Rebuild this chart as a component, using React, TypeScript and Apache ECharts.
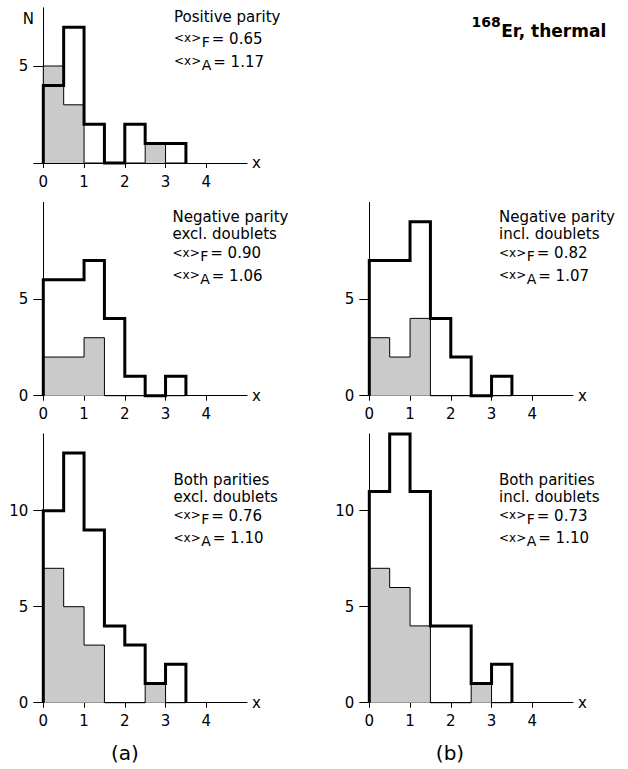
import React, { useEffect, useRef } from 'react';
import * as echarts from 'echarts';

// Bin edges (width 0.5) and axis ticks
const binEdges = [0, 0.5, 1, 1.5, 2, 2.5, 3, 3.5];
const xTicks = [0, 1, 2, 3, 4];

// Counts per bin: outlined histogram and shaded histogram for each panel
const posOutline = [4, 7, 2, 0, 2, 1, 1];
const posShaded = [5, 3, 0, 0, 0, 1, 0];
const negExclOutline = [6, 6, 7, 4, 1, 0, 1];
const negExclShaded = [2, 2, 3, 0, 0, 0, 0];
const negInclOutline = [7, 7, 9, 4, 2, 0, 1];
const negInclShaded = [3, 2, 4, 0, 0, 0, 0];
const bothExclOutline = [10, 13, 9, 4, 3, 1, 2];
const bothExclShaded = [7, 5, 3, 0, 0, 1, 0];
const bothInclOutline = [11, 14, 11, 4, 4, 1, 2];
const bothInclShaded = [7, 6, 4, 0, 0, 1, 0];

const outlines = [posOutline, negExclOutline, negInclOutline, bothExclOutline, bothInclOutline];
const shadeds = [posShaded, negExclShaded, negInclShaded, bothExclShaded, bothInclShaded];

const panelTitles = [
  ['Positive parity'],
  ['Negative parity', 'excl. doublets'],
  ['Negative parity', 'incl. doublets'],
  ['Both parities', 'excl. doublets'],
  ['Both parities', 'incl. doublets'],
];
const meanF = ['0.65', '0.90', '0.82', '0.76', '0.73'];
const meanA = ['1.17', '1.06', '1.07', '1.10', '1.10'];
const yMax = [8, 10, 10, 14, 14];
const yTickValues = [[0, 5], [0, 5], [0, 5], [0, 5, 10], [0, 5, 10]];
const yLabelValues = [[5], [0, 5], [0, 5], [0, 5, 10], [0, 5, 10]];

const FONT = '"DejaVu Sans", "Liberation Sans", sans-serif';
const UX = 40.75;

// Plot frames: left edge, y of the zero line, pixels per count
const frames = [
  { left: 43.3, zero: 163, unit: 19.4, textX: 174, base: [22.3, 44, 66.7] },
  { left: 43.3, zero: 395.7, unit: 19.33, textX: 172.5, base: [222.3, 239, 258.3, 281] },
  { left: 369.3, zero: 395.7, unit: 19.33, textX: 499, base: [222.3, 239, 258.3, 281] },
  { left: 43.3, zero: 702.7, unit: 19.2, textX: 173.5, base: [485, 502.3, 521, 543.3] },
  { left: 369.3, zero: 702.7, unit: 19.2, textX: 499, base: [485, 502.3, 521, 543.3] },
];

const measureCtx = document.createElement('canvas').getContext('2d')!;
function textWidth(s: string, size: number, weight = 'normal') {
  measureCtx.font = `${weight} ${size}px ${FONT}`;
  return measureCtx.measureText(s).width;
}

function txt(x: number, baseline: number, text: string, size: number, weight = 'normal', align = 'left') {
  return {
    type: 'text',
    x,
    y: baseline - 0.346 * size,
    silent: true,
    style: {
      text,
      fill: '#000',
      font: `${weight} ${size}px ${FONT}`,
      align,
      verticalAlign: 'middle',
    },
  };
}

function statLine(x: number, baseline: number, sub: string, value: string) {
  const w1 = textWidth('<x>', 12);
  const w2 = textWidth(sub, 14);
  return [
    txt(x, baseline - 1.5, '<x>', 12),
    txt(x + w1 + 0.5, baseline + 3, sub, 14),
    txt(x + w1 + 0.5 + w2 + 2, baseline, '= ' + value, 15),
  ];
}

function stepPoints(counts: number[]) {
  const pts: number[][] = [[binEdges[0], 0]];
  counts.forEach((c, i) => {
    pts.push([binEdges[i], c]);
    pts.push([binEdges[i + 1], c]);
  });
  pts.push([binEdges[counts.length], 0]);
  return pts;
}

function buildOption() {
  const grid: any[] = [];
  const xAxis: any[] = [];
  const yAxis: any[] = [];
  const series: any[] = [];
  const graphic: any[] = [];

  frames.forEach((f, i) => {
    const height = yMax[i] * f.unit;
    grid.push({
      left: f.left,
      top: f.zero - height,
      width: 5 * UX,
      height,
      containLabel: false,
      outerBoundsMode: 'none',
    });
    xAxis.push({
      type: 'value',
      gridIndex: i,
      min: 0,
      max: 5,
      splitLine: { show: false },
      axisLine: { show: true, onZero: false, lineStyle: { color: '#000', width: 1 } },
      axisTick: { show: true, length: 5, customValues: xTicks, lineStyle: { color: '#000', width: 1 } },
      axisLabel: { customValues: xTicks, color: '#000', fontSize: 15, fontFamily: FONT, margin: 11 },
      name: 'x',
      nameLocation: 'end',
      nameGap: 5,
      nameTextStyle: { color: '#000', fontSize: 15, fontFamily: FONT, verticalAlign: 'middle' },
    });
    yAxis.push({
      type: 'value',
      gridIndex: i,
      min: 0,
      max: yMax[i],
      splitLine: { show: false },
      axisLine: { show: true, lineStyle: { color: '#000', width: 1 } },
      axisTick: { show: true, length: 10, customValues: yTickValues[i], lineStyle: { color: '#000', width: 1 } },
      axisLabel: { customValues: yLabelValues[i], color: '#000', fontSize: 15, fontFamily: FONT, margin: 15 },
    });
    series.push({
      type: 'line',
      xAxisIndex: i,
      yAxisIndex: i,
      data: stepPoints(shadeds[i]),
      symbol: 'none',
      clip: false,
      silent: true,
      lineStyle: { color: '#000', width: 1 },
      areaStyle: { color: '#cacaca', opacity: 1 },
      z: 2,
    });
    series.push({
      type: 'line',
      xAxisIndex: i,
      yAxisIndex: i,
      data: stepPoints(outlines[i]),
      symbol: 'none',
      clip: false,
      silent: true,
      lineStyle: { color: '#000', width: 3, join: 'miter' },
      z: 3,
    });

    // Panel annotation
    const titles = panelTitles[i];
    titles.forEach((t, k) => graphic.push(txt(f.textX, f.base[k], t, 15)));
    graphic.push(...statLine(f.textX, f.base[titles.length], 'F', meanF[i]));
    graphic.push(...statLine(f.textX, f.base[titles.length + 1], 'A', meanA[i]));
  });

  // Axis quantity, figure title and column labels
  graphic.push(txt(28.3, 24.2, 'N', 15, 'normal', 'center'));
  graphic.push(txt(471.5, 26.7, '168', 14, 'bold'));
  graphic.push(txt(471.5 + textWidth('168', 14, 'bold') + 0.5, 36.7, 'Er, thermal', 17, 'bold'));
  graphic.push(txt(125, 759.5, '(a)', 20, 'normal', 'center'));
  graphic.push(txt(450, 759.5, '(b)', 20, 'normal', 'center'));

  return {
    animation: false,
    backgroundColor: '#fff',
    grid,
    xAxis,
    yAxis,
    series,
    graphic,
  };
}

export default function App() {
  const ref = useRef<HTMLDivElement>(null);
  useEffect(() => {
    const chart = echarts.init(ref.current!, undefined, { renderer: 'svg', width: 628, height: 769 });
    chart.setOption(buildOption() as any);
    return () => chart.dispose();
  }, []);
  return (
    <div
      ref={ref}
      style={{ position: 'fixed', left: 0, top: 0, width: 628, height: 769, background: '#fff' }}
    />
  );
}
